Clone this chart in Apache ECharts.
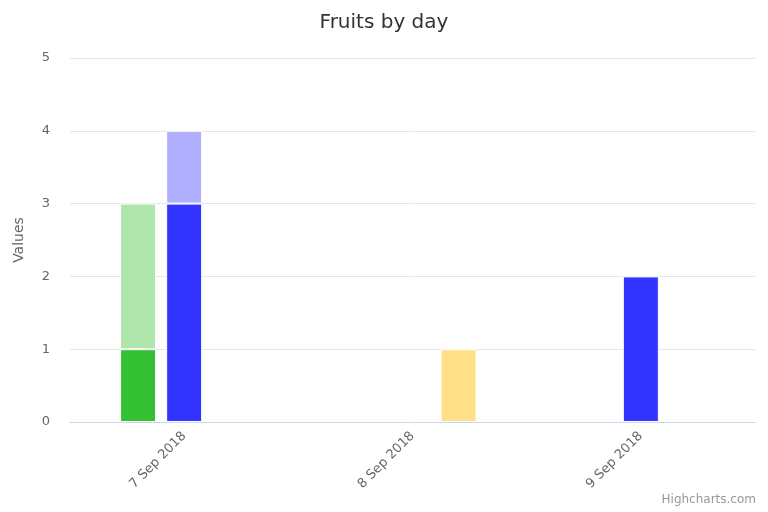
<!DOCTYPE html>
<html><head><meta charset="utf-8">
<script src="https://cdn.jsdelivr.net/npm/echarts@6/dist/echarts.min.js"></script>
<style>html,body{margin:0;padding:0;background:#fff}#c{width:768px;height:512px}</style>
</head><body><div id="c"></div>
<script>
const categories = ['7 Sep 2018', '8 Sep 2018', '9 Sep 2018'];
const greenDark = [1, 0, 0];
const greenLight = [2, 0, 0];
const blueDark = [3, 0, 2];
const blueLight = [1, 0, 0];
const yellow = [0, 1, 0];
const yTicks = [0, 1, 2, 3, 4, 5];

const chart = echarts.init(document.getElementById('c'));
const font = '"Lucida Grande","DejaVu Sans",sans-serif';
function s(name, data, stack, color) {
  return { name, type: 'bar', stack, data: data.map(v => v === 0 ? '-' : v), barWidth: 36, barGap: '28%',
    itemStyle: { color, borderColor: '#fff', borderWidth: 1 } };
}
chart.setOption({
  animation: false,
  title: { text: 'Fruits by day', left: 'center', top: 8, textStyle: { fontFamily: font, fontSize: 20, fontWeight: 'normal', color: '#333' } },
  graphic: [{ type: 'text', right: 12, bottom: 6, style: { text: 'Highcharts.com', fill: '#999', fontSize: 12, fontFamily: font } }],
  grid: { left: 70, right: 13, top: 58, bottom: 90 },
  xAxis: { type: 'category', data: categories,
    axisLine: { lineStyle: { color: '#ccd6eb' } },
    axisTick: { length: 10, lineStyle: { color: '#ccd6eb' } },
    axisLabel: { rotate: 45, color: '#666', fontSize: 13, fontFamily: font, margin: 12 } },
  yAxis: { type: 'value', min: 0, max: 5, interval: 1, name: 'Values', nameLocation: 'middle', nameGap: 44,
    nameTextStyle: { color: '#666', fontSize: 14, fontFamily: font },
    axisLabel: { color: '#666', fontSize: 13, fontFamily: font, margin: 20 },
    splitLine: { lineStyle: { color: '#e6e6e6' } }, axisLine: { show: false }, axisTick: { show: false } },
  series: [
    s('A1', greenDark, 'a', '#33c133'),
    s('A2', greenLight, 'a', '#b0e6ac'),
    s('B1', blueDark, 'b', '#3333ff'),
    s('B2', blueLight, 'b', '#b0b0ff'),
    s('C1', yellow, 'c', '#ffdf88')
  ]
});
</script></body></html>
